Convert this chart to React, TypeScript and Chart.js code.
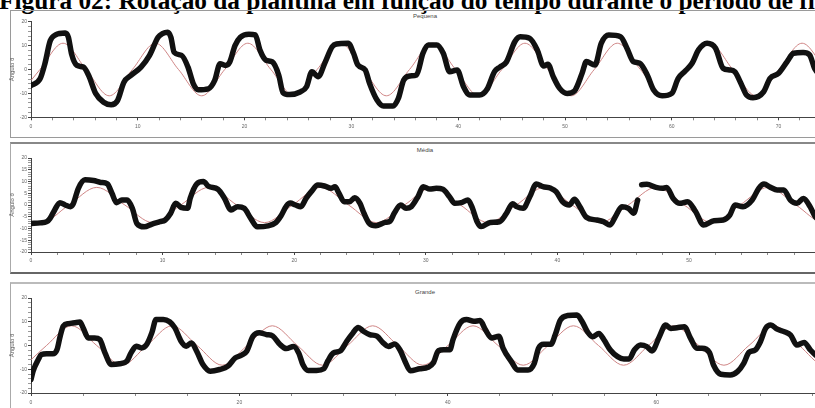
import React, { useEffect, useRef } from "react";
import { Chart, registerables } from "chart.js";

Chart.register(...registerables);

// ---------- Pequena ----------
const pequenaTime = [
  0, 0.85, 1.3, 1.8, 2.3, 3.2, 3.5, 3.8, 4.3, 4.9,
  5.4, 6.05, 6.8, 7.5, 8.1, 8.7, 9.35, 10.3, 11.1, 11.9,
  12.3, 12.8, 13.1, 13.4, 14.1, 14.7, 15.2, 15.65, 16.6, 17.2,
  17.7, 18.2, 18.6, 19.1, 19.6, 20.4, 21.0, 21.45, 22.0, 22.6,
  23.2, 23.6, 24.2, 25.2, 25.8, 26.3, 26.9, 27.5, 28.2, 28.6,
  29.7, 30.2, 30.6, 31.3, 31.7, 32.4, 33.0, 33.9, 34.4, 34.9,
  35.5, 36.1, 36.7, 37.2, 38.0, 38.6, 39.2, 39.9, 40.5, 41.1,
  42.0, 42.7, 43.4, 43.9, 44.5, 45.3, 45.8, 46.7, 47.4, 48.0,
  48.4, 48.9, 49.5, 50.2, 50.9, 51.6, 52.0, 52.8, 53.4, 54.1,
  55.2, 55.8, 56.4, 57.0, 57.7, 58.3, 59.1, 60.0, 60.6, 61.2,
  61.9, 62.5, 63.3, 64.1, 64.8, 65.4, 65.9, 66.4, 67.0, 67.6,
  68.6, 69.2, 70.0, 70.8, 71.4, 72.3, 72.9, 73.4, 74.0,
];
const pequenaAngle = [
  -6.7, -3.9, 2.4, 12, 14.5, 15.3, 13.5, 6.5, 1.7, 1,
  -2.5, -10, -13.7, -14.8, -13, -5.3, -2.5, 1, 5.9, 13.5,
  15, 15.6, 13.5, 7.2, 5.9, 1, -6, -8.5, -8.1, -4.6,
  2.4, 1.7, 3, 10, 13.5, 14.8, 14.5, 8, 3.9, 3.2,
  -2.4, -9.7, -10.5, -9.4, -7.2, -0.9, -3, 2.6, 9.5, 10.7,
  11, 6.8, 1.9, -0.2, -5.8, -12.8, -15.3, -15.3, -12, -4.4,
  -2.7, -2.3, 6.8, 10.3, 10.3, 6.8, -0.9, -0.2, -7.2, -10.7,
  -10.7, -8.3, -0.9, 1, 3, 11.6, 13.7, 13, 8.2, 1.5,
  2.2, -3, -7.9, -10, -8.9, -1.6, 3.3, 1.9, 11, 14.4,
  13.7, 8.9, 3.3, 2.6, -2.3, -8.6, -11, -10, -3.7, -0.9,
  2.6, 8.2, 11, 8.9, 0.5, -0.2, -0.9, -5.1, -10.7, -11.8,
  -9.3, -3.7, -1.6, 3.3, 6.8, 7.1, 6.1, 0.2, -3,
];
const pequenaFitTime = [
  0, 0.84, 3.0, 5.16, 7.33, 9.49, 11.65, 13.81, 15.98, 18.14,
  20.3, 22.46, 24.63, 26.79, 28.95, 31.11, 33.28, 35.44, 37.6, 39.76,
  41.93, 44.09, 46.25, 48.41, 50.58, 52.74, 54.9, 57.06, 59.23, 61.39,
  63.55, 65.71, 67.88, 70.04, 72.2, 74.36, 76.53, 78.69,
];
const pequenaFitAngle = [
  -4.6, 0, 11, 0, -11, 0, 11, 0, -11, 0,
  11, 0, -11, 0, 11, 0, -11, 0, 11, 0,
  -11, 0, 11, 0, -11, 0, 11, 0, -11, 0,
  11, 0, -11, 0, 11, 0, -11, 0,
];

// ---------- Média ----------
const mediaTime = [
  0, 0.7, 1.2, 1.45, 1.8, 2.2, 2.6, 3.0, 3.2, 3.6,
  4.1, 4.75, 5.3, 5.8, 6.15, 6.5, 6.9, 7.3, 7.7, 8.05,
  8.6, 9.2, 9.8, 10.2, 10.6, 11.0, 11.4, 11.9, 12.1, 12.6,
  13.1, 13.5, 14.2, 14.7, 15.2, 15.7, 16.2, 16.7, 17.2, 18.0,
  18.6, 19.0, 19.4, 19.7, 20.1, 20.5, 20.9, 21.3, 21.8, 22.3,
  22.8, 23.1, 23.4, 23.8, 24.2, 24.6, 25.0, 25.3, 25.7, 26.2,
  26.9, 27.3, 27.6, 28.1, 28.5, 28.9, 29.4, 29.8, 30.3, 30.8,
  31.3, 31.8, 32.2, 32.7, 33.2, 33.5, 33.9, 34.2, 34.9, 35.6,
  36.1, 36.6, 36.9, 37.4, 37.9, 38.4, 38.9, 39.5, 39.9, 40.4,
  40.9, 41.3, 41.7, 42.2, 43.0, 43.5, 44.0, 44.4, 44.9, 45.4,
  45.8, 46.1, 46.25, 46.4, 46.8, 47.5, 48.0, 48.3, 48.8, 49.3,
  49.9, 50.5, 51.1, 51.9, 52.6, 53.1, 53.5, 54.1, 54.8, 55.3,
  55.7, 56.2, 56.7, 57.2, 57.7, 58.2, 58.7, 59.2, 59.6, 60.2,
];
const mediaAngle = [
  -7.9, -7.6, -7.1, -5.7, -2.1, 1, 0, -0.7, 0.4, 7.1,
  10.7, 10.4, 9.6, 9, 5, 1, 2.1, 2.1, -1.4, -7.9,
  -9.3, -8.1, -7.1, -6.4, -3.6, 0.7, -1, -1.4, 2.9, 9,
  10, 7.9, 6.7, 2.9, -2.1, -0.7, -1.4, -5.7, -9.3, -8.9,
  -7.5, -4.6, -0.5, 0.8, 0, -0.7, 2.8, 5.7, 8.5, 8.1,
  7.1, 7.8, 5, 1.4, 1.4, 3.1, 0.7, -3.5, -7.8, -8.8,
  -7.4, -6.8, -3.5, 0, -1.4, -0.7, 3.5, 7.8, 6.8, 7.1,
  6.7, 3.5, 0.7, 1, 2.1, -0.7, -7.1, -9.2, -7.4, -7.1,
  -3.8, 0.5, -0.7, -1.4, 3.5, 8.9, 7.8, 7.1, 5.7, 1.4,
  0, 2.4, -0.7, -5.2, -6.4, -7.1, -8.5, -5, -0.7, -1.4,
  -3.5, 2.1, null, 8.6, 8.8, 7.5, 7.1, 7.5, 2.8, 0.7,
  1.4, -2.8, -8.5, -6.7, -6.4, -4.3, 0, -0.7, 2.1, 7.1,
  8.9, 7.5, 6.4, 6.4, 2.1, 0.7, 2.8, -0.7, -5, -7.5,
];
const mediaFitTime = [
  0, 0.75, 2.88, 5.0, 7.13, 9.25, 11.38, 13.5, 15.63, 17.75,
  19.88, 22.0, 24.13, 26.25, 28.38, 30.5, 32.63, 34.75, 36.88, 39.0,
  41.13, 43.25, 45.38, 47.5, 49.63, 51.75, 53.88, 56.0, 58.13, 60.25,
  62.38, 64.5,
];
const mediaFitAngle = [
  -7.2, -7.5, 0, 7.5, 0, -7.5, 0, 7.5, 0, -7.5,
  0, 7.5, 0, -7.5, 0, 7.5, 0, -7.5, 0, 7.5,
  0, -7.5, 0, 7.5, 0, -7.5, 0, 7.5, 0, -7.5,
  0, 7.5,
];

// ---------- Grande ----------
const grandeTime = [
  0, 0.2, 0.7, 1.0, 1.5, 2.1, 2.5, 2.8, 3.1, 3.6,
  4.2, 4.7, 5.0, 5.5, 6.1, 6.6, 7.1, 7.7, 8.5, 9.2,
  9.6, 10.1, 10.6, 11.1, 11.6, 12.0, 12.7, 13.3, 13.8, 14.4,
  14.9, 15.4, 15.9, 16.5, 17.2, 18.1, 18.9, 19.6, 20.2, 20.7,
  21.3, 21.9, 22.6, 23.2, 23.9, 24.5, 25.2, 25.7, 26.1, 26.6,
  27.4, 28.1, 28.5, 29.0, 29.7, 30.3, 30.9, 31.4, 31.9, 32.5,
  33.2, 33.8, 34.3, 34.9, 35.4, 35.9, 36.4, 37.3, 38.1, 38.6,
  39.1, 39.6, 40.2, 40.5, 41.2, 41.8, 42.5, 43.1, 43.6, 44.2,
  44.9, 45.3, 46.1, 46.7, 47.7, 48.3, 48.7, 49.2, 49.9, 50.3,
  50.8, 51.5, 52.4, 52.9, 53.4, 53.9, 54.5, 55.0, 55.6, 56.3,
  56.9, 57.4, 57.9, 58.5, 59.1, 59.6, 60.3, 60.9, 61.4, 62.0,
  62.7, 63.3, 63.9, 64.4, 65.1, 65.5, 66.2, 67.1, 67.8, 68.4,
  68.9, 69.5, 70.0, 70.5, 71.0, 71.6, 72.3, 72.9, 73.5, 74.2,
  74.8, 75.3, 76.0,
];
const grandeAngle = [
  -14.4, -10.8, -5.9, -3.8, -3.5, -3.5, -1.7, 3.9, 8.2, 9.2,
  9.6, 9.9, 7.5, 3.2, 3.2, 2.5, -3.1, -8, -7.7, -6.6,
  -3.1, -0.3, -1, 0.4, 5.4, 11, 11, 10, 7.5, 1.8,
  -0.3, 1.1, -2.4, -8, -10.8, -10.1, -8.7, -5.2, -4.1, -2.4,
  3.9, 5.4, 4.6, 4, 0.4, -1.3, -0.4, -3.2, -8.1, -10.5,
  -10.5, -9.8, -6.4, -3.2, -2.2, 1.8, 5.3, 7.6, 6, 4.6,
  3.9, 1.1, -0.4, 0.6, -1.8, -6.7, -10.6, -9.8, -9.2, -7.4,
  -2.2, -1.8, -1.8, 2.5, 9.5, 10.9, 10.2, 10.5, 6.7, 3.2,
  3.9, -1.1, -6.8, -10.3, -10.3, -7.5, -1.2, 0.5, 0.5, 4.4,
  10.7, 12.6, 12.8, 10, 5.8, 3.7, 5.1, 2.3, -1.9, -4.7,
  -5.7, -5.7, -1.9, 0.2, -0.5, -2.3, 3.7, 8.6, 7.2, 7.5,
  7.9, 3, -1.2, -1.2, -2.9, -8.2, -12.1, -12.4, -11, -7.5,
  -2.9, -1.9, 1.6, 7.2, 8.6, 6.9, 5.8, 4.4, 0.2, 1.3,
  -1.9, -4, -6,
];
const grandeFitTime = [
  0, 1.49, 3.9, 6.31, 8.72, 11.12, 13.53, 15.94, 18.35, 20.75,
  23.16, 25.57, 27.98, 30.38, 32.79, 35.2, 37.61, 40.01, 42.42, 44.83,
  47.24, 49.64, 52.05, 54.46, 56.87, 59.27, 61.68, 64.09, 66.5, 68.9,
  71.31, 73.72, 76.13, 78.53,
];
const grandeFitAngle = [
  -6, 0, 8.3, 0, -8.3, 0, 8.3, 0, -8.3, 0,
  8.3, 0, -8.3, 0, 8.3, 0, -8.3, 0, 8.3, 0,
  -8.3, 0, 8.3, 0, -8.3, 0, 8.3, 0, -8.3, 0,
  8.3, 0, -8.3, 0,
];

const CAPTION = "Figura 02: Rotação da plantina em função do tempo durante o período de filmagem";
const Y_TITLE = "Ângulo θ";
const SANS = "'Liberation Sans', Arial, sans-serif";
const CANVAS_W = 860;

type PanelProps = {
  top: number;
  height: number;
  padTop: number;
  axisH: number;
  xMax: number;
  xStep: number;
  xLabelEvery: number;
  xLabelPad: number;
  yStep: number;
  yLabelEvery: number;
  time: number[];
  angle: (number | null)[];
  fitTime: number[];
  fitAngle: number[];
};

function Panel(p: PanelProps) {
  const ref = useRef<HTMLCanvasElement | null>(null);
  useEffect(() => {
    if (!ref.current) return;
    const isMult = (v: number, m: number) => Math.abs(v / m - Math.round(v / m)) < 1e-6;
    const chart = new Chart(ref.current, {
      type: "line",
      data: {
        datasets: [
          {
            data: p.time.map((t, i) => ({ x: t, y: p.angle[i] })),
            borderColor: "#111111",
            borderWidth: 5.5,
            pointRadius: 0,
            cubicInterpolationMode: "monotone",
            borderCapStyle: "round",
            borderJoinStyle: "round",
            spanGaps: false,
          },
          {
            data: p.fitTime.map((t, i) => ({ x: t, y: p.fitAngle[i] })),
            borderColor: "#cf8585",
            borderWidth: 1,
            pointRadius: 0,
            cubicInterpolationMode: "monotone",
          },
        ],
      } as any,
      options: {
        animation: false,
        responsive: false,
        events: [],
        plugins: { legend: { display: false }, tooltip: { enabled: false } },
        layout: { padding: { top: p.padTop, left: 0, right: 0, bottom: 0 } },
        scales: {
          x: {
            type: "linear",
            min: 0,
            max: p.xMax,
            afterFit: (s: any) => {
              s.height = p.axisH;
            },
            ticks: {
              stepSize: p.xStep,
              autoSkip: false,
              maxRotation: 0,
              includeBounds: false,
              maxTicksLimit: 200,
              padding: p.xLabelPad,
              color: "#666",
              font: { size: 5, family: SANS },
              callback: (v: any) => (isMult(Number(v), p.xLabelEvery) ? String(Math.round(Number(v))) : ""),
            },
            grid: {
              drawOnChartArea: false,
              tickLength: 3,
              color: (ctx: any) => (ctx.tick && isMult(ctx.tick.value, p.xLabelEvery) ? "#444" : "#888"),
            },
            border: { color: "#444", width: 1 },
          },
          y: {
            type: "linear",
            min: -20,
            max: 20,
            afterFit: (s: any) => {
              s.width = 31;
            },
            ticks: {
              stepSize: p.yStep,
              autoSkip: false,
              maxTicksLimit: 200,
              padding: 1,
              color: "#666",
              font: { size: 5, family: SANS },
              callback: (v: any) => (isMult(Number(v), p.yLabelEvery) ? String(Math.round(Number(v))) : ""),
            },
            grid: {
              drawOnChartArea: false,
              tickLength: 3,
              color: (ctx: any) => (ctx.tick && isMult(ctx.tick.value, p.yLabelEvery) ? "#444" : "#999"),
            },
            border: { color: "#444", width: 1 },
            title: {
              display: true,
              text: Y_TITLE,
              color: "#555",
              font: { size: 6, family: SANS },
              padding: { top: 9, bottom: 0 },
            },
          },
        },
      } as any,
    });
    return () => chart.destroy();
  }, []);
  return (
    <canvas
      ref={ref}
      width={CANVAS_W}
      height={p.height}
      style={{ position: "absolute", left: 0, top: p.top, width: CANVAS_W, height: p.height }}
    />
  );
}

const titleStyle = (top: number): React.CSSProperties => ({
  position: "absolute",
  left: 425,
  top,
  transform: "translateX(-50%)",
  fontFamily: SANS,
  fontSize: 6,
  color: "#444",
  lineHeight: "6px",
  whiteSpace: "nowrap",
});

export default function App() {
  return (
    <div
      style={{
        position: "fixed",
        left: 0,
        top: 0,
        width: 815,
        height: 408,
        overflow: "hidden",
        background: "#ffffff",
      }}
    >
      <div
        style={{
          position: "absolute",
          left: -1,
          top: -12,
          fontFamily: "'Liberation Serif', 'Times New Roman', serif",
          fontWeight: "bold",
          fontSize: 25.3,
          lineHeight: "25.3px",
          whiteSpace: "nowrap",
          color: "#000",
        }}
      >
        {CAPTION}
      </div>
      <div style={{ position: "absolute", left: 10, top: 10, width: 900, height: 126, border: "1px solid #9a9a9a" }} />
      <div style={{ position: "absolute", left: 10, top: 142, width: 900, height: 128, borderTop: "2px solid #888", borderBottom: "2px solid #666", borderLeft: "1px solid #aaa" }} />
      <div style={{ position: "absolute", left: 10, top: 282, width: 900, height: 200, borderTop: "2px solid #bbb", borderLeft: "1px solid #aaa" }} />
      <div style={titleStyle(13)}>Pequena</div>
      <div style={titleStyle(147)}>Média</div>
      <div style={titleStyle(289)}>Grande</div>
      <Panel
        top={10}
        height={127}
        padTop={11.7}
        axisH={19.7}
        xMax={(CANVAS_W - 31) / 10.68}
        xStep={2}
        xLabelEvery={10}
        xLabelPad={3}
        yStep={2}
        yLabelEvery={10}
        time={pequenaTime}
        angle={pequenaAngle}
        fitTime={pequenaFitTime}
        fitAngle={pequenaFitAngle}
      />
      <Panel
        top={143}
        height={129}
        padTop={15}
        axisH={20}
        xMax={(CANVAS_W - 31) / 13.16}
        xStep={2}
        xLabelEvery={10}
        xLabelPad={3}
        yStep={1}
        yLabelEvery={5}
        time={mediaTime}
        angle={mediaAngle}
        fitTime={mediaFitTime}
        fitAngle={mediaFitAngle}
      />
      <Panel
        top={284}
        height={124}
        padTop={14}
        axisH={15}
        xMax={(CANVAS_W - 31) / 10.42}
        xStep={5}
        xLabelEvery={20}
        xLabelPad={4}
        yStep={2}
        yLabelEvery={10}
        time={grandeTime}
        angle={grandeAngle}
        fitTime={grandeFitTime}
        fitAngle={grandeFitAngle}
      />
    </div>
  );
}
